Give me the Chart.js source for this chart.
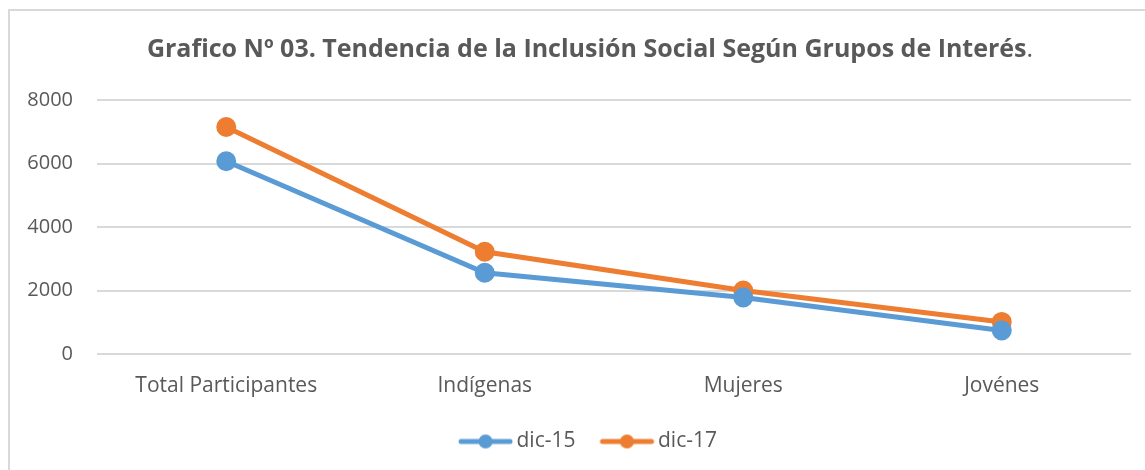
<!DOCTYPE html>
<html>
<head>
<meta charset="utf-8">
<script src="https://cdn.jsdelivr.net/npm/chart.js@4"></script>
<style>
  body { margin: 0; background: #fff; }
  #wrap { width: 1145px; height: 470px; }
</style>
</head>
<body>
<div id="wrap"><canvas id="trendChart" width="1145" height="470"></canvas></div>
<script>
const categories = ["Total Participantes", "Indígenas", "Mujeres", "Jovénes"];
const dic15 = [6070, 2560, 1780, 740];
const dic17 = [7150, 3220, 2000, 1010];
const yTicks = [0, 2000, 4000, 6000, 8000];
const titleText = "Grafico Nº 03. Tendencia de la Inclusión Social Según Grupos de Interés";

const FONT = "'Open Sans', sans-serif";
const TEXT = "#595959";

// line + dot legend marker, shifted right inside a wide transparent canvas
function legendIcon(color) {
  const c = document.createElement("canvas");
  c.width = 100; c.height = 18;
  const g = c.getContext("2d");
  g.strokeStyle = color;
  g.lineWidth = 5;
  g.lineCap = "round";
  g.beginPath(); g.moveTo(38, 9); g.lineTo(87, 9); g.stroke();
  g.fillStyle = color;
  g.beginPath(); g.arc(62.5, 9, 7, 0, Math.PI * 2); g.fill();
  return c;
}

const frame = {
  id: "frame",
  beforeDraw(chart) {
    const ctx = chart.ctx;
    ctx.save();
    ctx.fillStyle = "#fff";
    ctx.fillRect(0, 0, chart.width, chart.height);
    ctx.strokeStyle = "#d9d9d9";
    ctx.lineWidth = 2;
    ctx.beginPath();
    ctx.moveTo(9, chart.height);
    ctx.lineTo(9, 10);
    ctx.lineTo(chart.width, 10);
    ctx.stroke();
    ctx.restore();
  },
  afterDraw(chart) {
    const ctx = chart.ctx;
    ctx.save();
    ctx.fillStyle = TEXT;
    ctx.textBaseline = "middle";
    ctx.font = "bold 25px " + FONT;
    const w1 = ctx.measureText(titleText).width;
    ctx.font = "25px " + FONT;
    const w2 = ctx.measureText(".").width;
    const x0 = 590 - (w1 + w2) / 2;
    ctx.textAlign = "left";
    ctx.font = "bold 25px " + FONT;
    ctx.fillText(titleText, x0, 50);
    ctx.font = "25px " + FONT;
    ctx.fillText(".", x0 + w1, 50);
    ctx.restore();
  }
};

new Chart(document.getElementById("trendChart"), {
  type: "line",
  data: {
    labels: categories,
    datasets: [
      {
        label: "dic-15",
        data: dic15,
        borderColor: "#5B9BD5",
        backgroundColor: "#5B9BD5",
        borderWidth: 5,
        pointRadius: 7.5,
        pointHoverRadius: 7.5,
        tension: 0,
        fill: false,
      },
      {
        label: "dic-17",
        data: dic17,
        borderColor: "#ED7D31",
        backgroundColor: "#ED7D31",
        borderWidth: 5,
        pointRadius: 7.5,
        pointHoverRadius: 7.5,
        tension: 0,
        fill: false,
      },
    ],
  },
  options: {
    responsive: false,
    animation: false,
    layout: { padding: { left: 26, right: 14, top: 100, bottom: 8 } },
    plugins: {
      tooltip: { enabled: false },
      legend: {
        position: "bottom",
        labels: {
          color: TEXT,
          font: { family: FONT, size: 21 },
          usePointStyle: true,
          pointStyleWidth: 66,
          padding: 6,
          generateLabels(chart) {
            return chart.data.datasets.map((ds, i) => ({
              text: ds.label,
              fillStyle: ds.borderColor,
              strokeStyle: ds.borderColor,
              fontColor: TEXT,
              lineWidth: 0,
              pointStyle: legendIcon(ds.borderColor),
              datasetIndex: i,
              hidden: false,
            }));
          },
        },
      },
    },
    scales: {
      x: {
        offset: true,
        afterFit(scale) { scale.height = 71; },
        grid: { display: false },
        border: { display: false },
        ticks: { color: TEXT, font: { family: FONT, size: 21 }, padding: 11 },
      },
      y: {
        min: 0,
        max: 8000,
        afterFit(scale) { scale.width = 71; },
        afterBuildTicks(scale) { scale.ticks = yTicks.map(v => ({ value: v })); },
        grid: { color: "#d9d9d9", lineWidth: 2, drawTicks: false },
        border: { display: false },
        ticks: {
          color: TEXT,
          font: { family: FONT, size: 20 },
          padding: 24,
          callback: v => String(v),
        },
      },
    },
  },
  plugins: [frame],
});
</script>
</body>
</html>
